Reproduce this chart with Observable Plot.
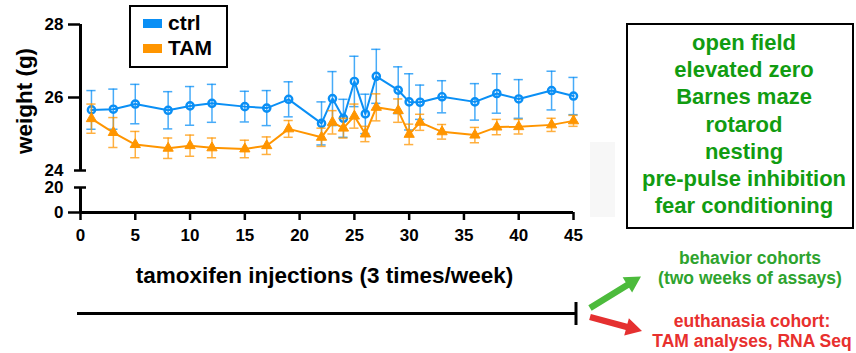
<!DOCTYPE html>
<html><head><meta charset="utf-8">
<script src="https://cdn.jsdelivr.net/npm/d3@7"></script>
<script src="https://cdn.jsdelivr.net/npm/@observablehq/plot@0.6"></script>
<style>body{margin:0;background:#fff} svg{display:block}</style>
</head><body><div id="chart"></div>
<script>
// ---- data ----
const days = [1,3,5,8,10,12,15,17,19,22,23,24,25,26,27,29,30,31,33,36,38,40,43,45];
const ctrlMean = [25.66,25.68,25.82,25.65,25.77,25.84,25.75,25.71,25.95,25.29,25.97,25.43,26.44,25.55,26.58,26.20,25.88,25.87,26.02,25.88,26.11,25.96,26.19,26.04];
const ctrlErr  = [0.53,0.55,0.54,0.51,0.53,0.52,0.42,0.48,0.48,0.59,0.74,0.52,0.69,0.54,0.74,0.64,0.77,0.47,0.44,0.50,0.54,0.53,0.53,0.51];
const tamMean  = [25.42,25.04,24.71,24.61,24.68,24.62,24.59,24.68,25.14,24.91,25.32,25.16,25.49,25.00,25.73,25.64,24.99,25.32,25.06,24.97,25.19,25.20,25.25,25.36];
const tamErr   = [0.40,0.41,0.36,0.28,0.29,0.27,0.24,0.24,0.23,0.25,0.32,0.27,0.33,0.21,0.37,0.32,0.28,0.22,0.20,0.21,0.21,0.20,0.18,0.15];
const groups = ["ctrl","TAM"];
const xTicks = [0,5,10,15,20,25,30,35,40,45];
const yTickLabels = [0,20,24,26,28];
const yLower = [0,20];   // lower (compressed) segment of broken axis
const yUpper = [24,28];  // upper segment
const xTitle = "tamoxifen injections (3 times/week)";
const yTitle = "weight (g)";
const assays = ["open field","elevated zero","Barnes maze","rotarod","nesting","pre-pulse inhibition","fear conditioning"];
const behaviorText = ["behavior cohorts","(two weeks of assays)"];
const euthText = ["euthanasia cohort:","TAM analyses, RNA Seq"];

const BLUE = "#0a8ff5", ORANGE = "#ff9500";
const cap = 0.42;

// broken-axis mapping: upper segment at full scale, lower segment compressed below a gap
const UNIT = 36.5, GAP = 17, LOWUNIT = 1.25;
function brk(v){
  return v >= yUpper[0] ? v : yUpper[0] - (GAP + (yLower[1]-v)*LOWUNIT)/UNIT;
}
const tickLabelOf = new Map(yTickLabels.map(v => [brk(v), String(v)]));

const ctrlRows = days.map((d,i)=>({group:"ctrl", day:d, mean:ctrlMean[i], err:ctrlErr[i]}));
const tamRows  = days.map((d,i)=>({group:"TAM", day:d, mean:tamMean[i], err:tamErr[i]}));

function errMarks(rows){
  return [
    Plot.ruleX(rows,{x:"day", y1:d=>brk(d.mean-d.err), y2:d=>brk(d.mean+d.err), stroke:"group", strokeWidth:1.5, strokeOpacity:0.75}),
    Plot.ruleY(rows,{y:d=>brk(d.mean+d.err), x1:d=>d.day-cap, x2:d=>d.day+cap, stroke:"group", strokeWidth:1.5, strokeOpacity:0.75}),
    Plot.ruleY(rows,{y:d=>brk(d.mean-d.err), x1:d=>d.day-cap, x2:d=>d.day+cap, stroke:"group", strokeWidth:1.5, strokeOpacity:0.75}),
    Plot.line(rows,{x:"day", y:d=>brk(d.mean), stroke:"group", strokeWidth:2})
  ];
}

const chart = Plot.plot({
  width:856, height:353,
  marginLeft:80, marginRight:283, marginTop:24, marginBottom:141,
  style:{fontFamily:"'Liberation Sans', Arial, sans-serif", fontWeight:"bold", fontSize:"17px", background:"#fff", color:"#000"},
  x:{domain:[0,45]},
  y:{domain:[brk(yLower[0]), yUpper[1]]},
  color:{domain:groups, range:[BLUE, ORANGE]},
  marks:[
    ...errMarks(ctrlRows),
    Plot.dot(ctrlRows,{x:"day", y:d=>brk(d.mean), r:3.6, stroke:"group", fill:"none", strokeWidth:2.4}),
    ...errMarks(tamRows),
    Plot.dot(tamRows,{x:"day", y:d=>brk(d.mean), r:3.8, symbol:"triangle", fill:"group", stroke:"group", strokeWidth:1}),
    // axes
    Plot.ruleX([0],{y1:brk(yUpper[0]), y2:brk(yUpper[1]), strokeWidth:3}),
    Plot.ruleX([0],{y1:brk(yLower[0]), y2:brk(yLower[1]), strokeWidth:3}),
    Plot.ruleY([brk(0)],{x1:0, x2:45, strokeWidth:3}),
    Plot.axisX({ticks:xTicks, tickSize:8, tickPadding:8, fontSize:17, strokeWidth:2.5, label:null}),
    Plot.axisY({ticks:yTickLabels.map(brk), tickSize:0, tickPadding:17, fontSize:17, tickFormat:v=>tickLabelOf.get(v), label:null}),
    Plot.axisY({ticks:[0,26,28].map(brk), tickSize:12, tickFormat:()=>"", strokeWidth:2.5, label:null}),
    Plot.axisY({ticks:[yLower[1], yUpper[0]].map(brk), tickSize:12, dx:6, tickFormat:()=>"", strokeWidth:2.5, label:null})
  ]
});
document.getElementById("chart").appendChild(chart);

const svg = d3.select(chart);
const xs = chart.scale("x");
const FONT = "'Liberation Sans', Arial, sans-serif";
function txt(g, s, x, y, size, fill, anchor="middle"){
  return g.append("text").attr("x",x).attr("y",y).attr("font-size",size).attr("font-weight","bold")
    .attr("font-family",FONT).attr("fill",fill).attr("text-anchor",anchor).text(s);
}
const g = svg.append("g");
// faint scan artifact
g.append("rect").attr("x",590).attr("y",142).attr("width",25).attr("height",75).attr("fill","#f7f7f7");
// titles
txt(g, yTitle, 0, 0, 22.5, "#000").attr("transform","translate(32,101) rotate(-90)");
txt(g, xTitle, (xs.apply(0)+xs.apply(45))/2 - 2, 283, 22.5, "#000");
// legend
g.append("rect").attr("x",130).attr("y",6).attr("width",97).attr("height",61).attr("fill","#fff").attr("stroke","#000").attr("stroke-width",2);
groups.forEach((k,i)=>{
  g.append("rect").attr("x",143).attr("y",19+25*i).attr("width",19).attr("height",9).attr("fill",[BLUE,ORANGE][i]);
  txt(g, k, 168, 29.5+25.5*i, 21, "#000", "start");
});
// assays box
g.append("rect").attr("x",627).attr("y",24).attr("width",226).attr("height",204).attr("fill","none").attr("stroke","#000").attr("stroke-width",2);
assays.forEach((s,i)=> txt(g, s, 744, 50+27.2*i, 22, "#119c11"));
// timeline
const tx0 = xs.apply(0)-3, tx1 = xs.apply(45)+3;
g.append("line").attr("x1",tx0).attr("x2",tx1).attr("y1",313.5).attr("y2",313.5).attr("stroke","#000").attr("stroke-width",3);
g.append("line").attr("x1",tx1).attr("x2",tx1).attr("y1",302).attr("y2",325).attr("stroke","#000").attr("stroke-width",3);
// arrows
function arrow(x1,y1,x2,y2,color){
  const dx=x2-x1, dy=y2-y1, L=Math.hypot(dx,dy), ux=dx/L, uy=dy/L, px=-uy, py=ux;
  const sw=3.2, hl=16, hw=9;
  const bx=x2-ux*hl, by=y2-uy*hl;
  const pts=[[x1+px*sw,y1+py*sw],[bx+px*sw,by+py*sw],[bx+px*hw,by+py*hw],[x2,y2],[bx-px*hw,by-py*hw],[bx-px*sw,by-py*sw],[x1-px*sw,y1-py*sw]];
  g.append("polygon").attr("points",pts.map(p=>p.join(",")).join(" ")).attr("fill",color);
}
arrow(590,308,641,276.5,"#4cbb3c");
arrow(590,317,642,331,"#e53030");
behaviorText.forEach((s,i)=> txt(g, s, 750, 264+19.5*i, 17.5, "#2ea32e"));
euthText.forEach((s,i)=> txt(g, s, 752, 327+20*i, 17.5, "#e8302e"));
</script>
</body></html>
